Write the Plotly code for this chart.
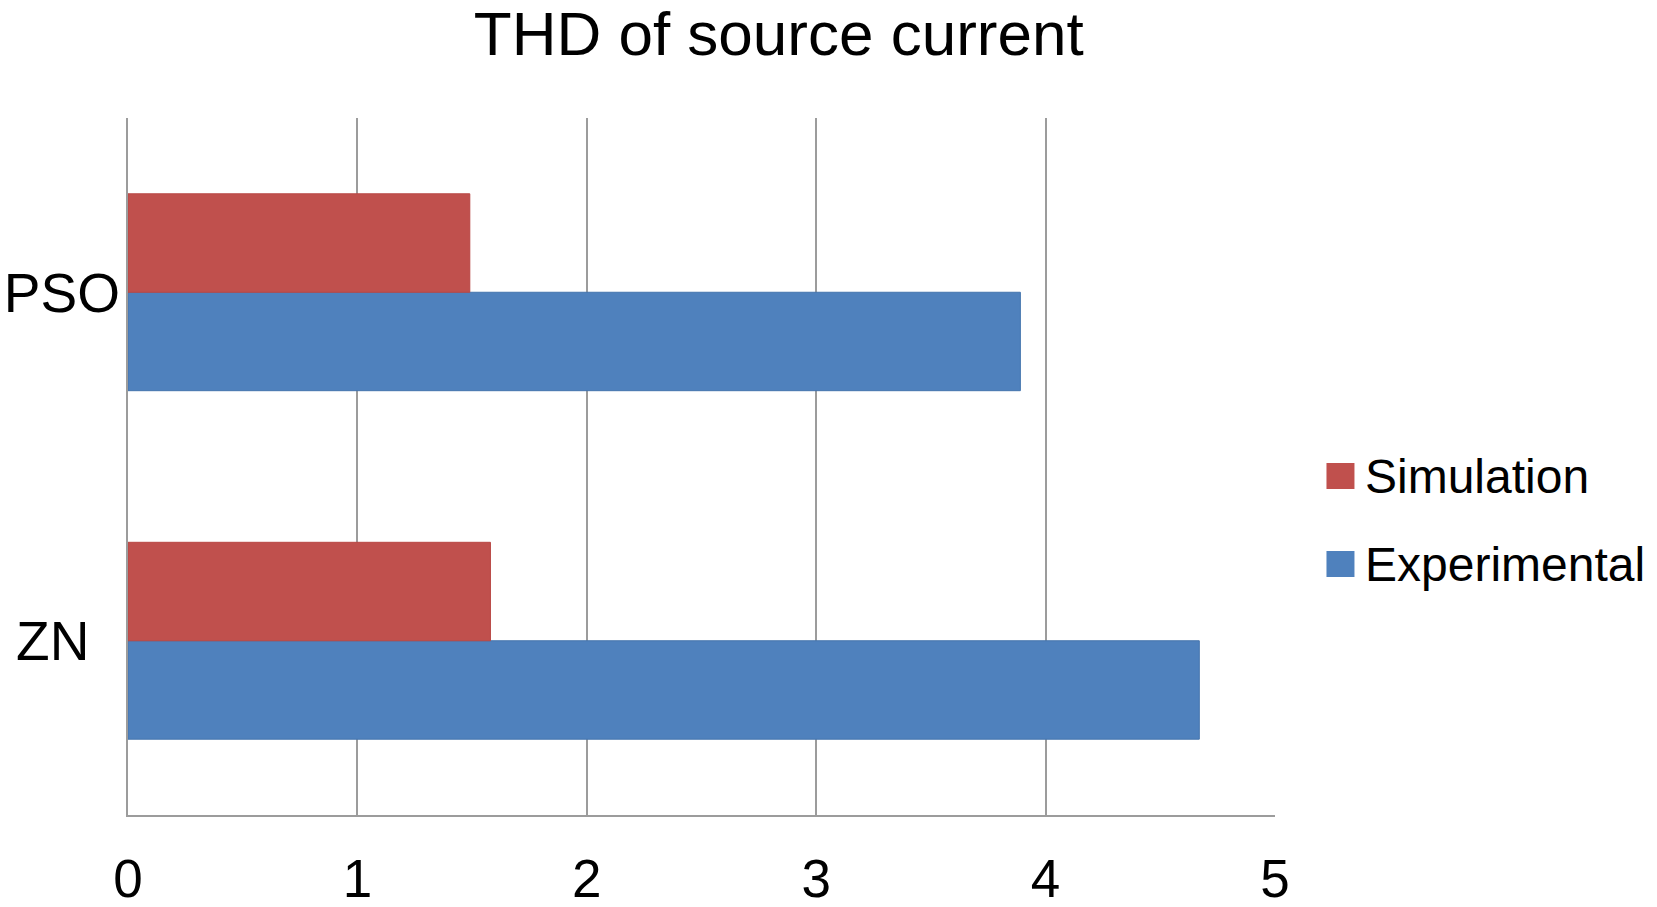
import plotly.graph_objects as go

categories = ["ZN", "PSO"]
category_labels = ["ZN\u00a0\u00a0", "PSO"]
simulation = [1.58, 1.49]
experimental = [4.67, 3.89]
x_ticks = [0, 1, 2, 3, 4, 5]
series_names = ["Simulation", "Experimental"]
series_colors = ["#C0504D", "#4F81BD"]

W, H = 1657, 907
L, R, T, B = 128, 1657 - 1275.5, 118, 907 - 815
FONT = "Liberation Sans, Arial, Helvetica, sans-serif"

fig = go.Figure()
fig.add_trace(go.Bar(
    y=categories, x=experimental, orientation="h", name=series_names[1],
    marker=dict(color=series_colors[1], line=dict(color="#4474AD", width=1)),
    showlegend=False,
))
fig.add_trace(go.Bar(
    y=categories, x=simulation, orientation="h", name=series_names[0],
    marker=dict(color=series_colors[0], line=dict(color="#B84744", width=1)),
    showlegend=False,
))

pw = W - L - R
ph = H - T - B

def px_x(px):
    return (px - L) / pw

def px_y(py):
    return 1 - (py - T) / ph

# manual legend
shapes = []
annotations = []
legend_rows = [(series_names[0], series_colors[0], 476), (series_names[1], series_colors[1], 564)]
for name, color, cy in legend_rows:
    shapes.append(dict(type="rect", xref="paper", yref="paper",
                       x0=px_x(1327), x1=px_x(1355), y0=px_y(cy + 13), y1=px_y(cy - 13),
                       fillcolor=color, line=dict(width=0)))
    annotations.append(dict(text=name, xref="paper", yref="paper", x=px_x(1364), y=px_y(cy),
                            xanchor="left", yanchor="middle", showarrow=False,
                            font=dict(family=FONT, size=48, color="black")))

fig.update_layout(
    width=W, height=H,
    margin=dict(l=L, r=R, t=T, b=B, pad=0, autoexpand=False),
    paper_bgcolor="white", plot_bgcolor="white",
    barmode="group", bargap=0.435, bargroupgap=0,
    title=dict(text="THD of source current", x=px_x(779), xref="paper", xanchor="center",
               y=1 - 33 / H, yref="container", yanchor="middle", automargin=False,
               font=dict(family=FONT, size=62, color="black")),
    xaxis=dict(range=[0, 5], tickvals=x_ticks, ticktext=[str(v) for v in x_ticks],
               showgrid=True, gridcolor="#9C9C9C", gridwidth=2, zeroline=False,
               showline=True, linecolor="#9C9C9C", linewidth=2, automargin=False,
               ticks="", ticklen=0, ticklabelstandoff=16,
               tickfont=dict(family=FONT, size=53, color="black")),
    yaxis=dict(categoryorder="array", categoryarray=categories,
               tickvals=categories, ticktext=category_labels, automargin=False,
               showgrid=False, zeroline=False,
               showline=True, linecolor="#9C9C9C", linewidth=2,
               ticks="", ticklen=0, ticklabelstandoff=-5,
               tickfont=dict(family=FONT, size=55, color="black")),
    shapes=shapes, annotations=annotations,
)

fig.write_html(
    "out.html",
    config={"displayModeBar": False},
    post_script="document.body.style.margin='0';document.body.style.overflow='hidden';",
)
